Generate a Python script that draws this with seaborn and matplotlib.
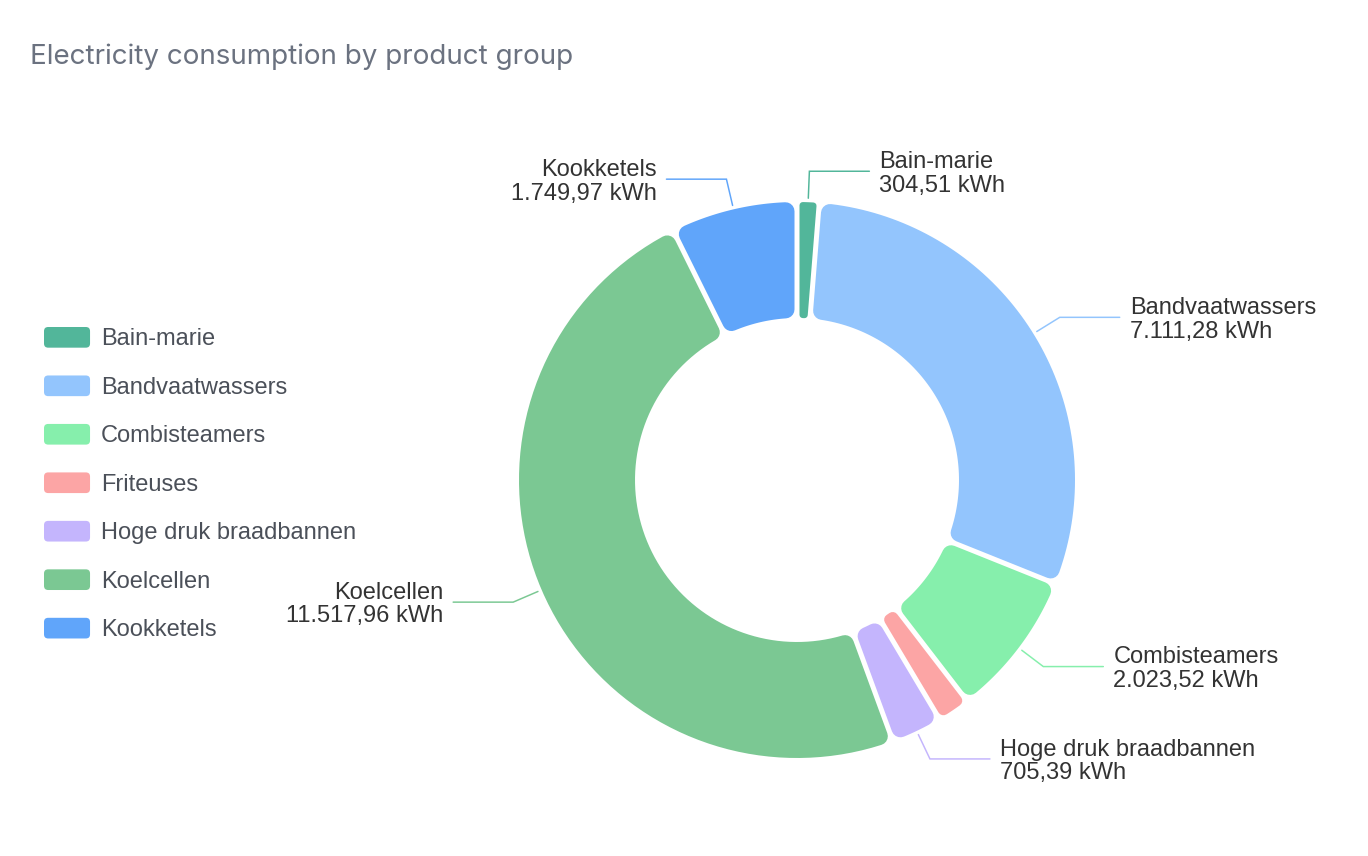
import numpy as np
import matplotlib
matplotlib.use("Agg")
import matplotlib.pyplot as plt
from matplotlib.patches import Polygon, Patch, FancyBboxPatch
from matplotlib.legend_handler import HandlerPatch
import seaborn as sns

# Data
categories = ["Bain-marie", "Bandvaatwassers", "Combisteamers", "Friteuses",
              "Hoge druk braadbannen", "Koelcellen", "Kookketels"]
consumption_kwh = [304.51, 7111.28, 2023.52, 450.00, 705.39, 11517.96, 1749.97]
show_label = [True, True, True, False, True, True, True]
hex_colors = ["#52b69a", "#93c5fd", "#86efac", "#fca5a5",
              "#c4b5fd", "#7bc893", "#60a5fa"]


def nl_kwh(v):
    s = f"{v:,.2f}".replace(",", "X").replace(".", ",").replace("X", ".")
    return f"{s} kWh"


class RoundHandle(HandlerPatch):
    def create_artists(self, legend, orig_handle, xdescent, ydescent,
                       width, height, fontsize, trans):
        p = FancyBboxPatch((-xdescent, -ydescent), width, height,
                           boxstyle="round,pad=0,rounding_size=3",
                           facecolor=orig_handle.get_facecolor(),
                           edgecolor="none", transform=trans)
        return [p]


W, H = 1368, 856
sns.set_theme(style="white")
plt.rcParams["font.family"] = ["Liberation Sans", "DejaVu Sans"]
palette = sns.color_palette(hex_colors)

fig = plt.figure(figsize=(W / 100, H / 100), dpi=100)
ax = fig.add_axes([0, 0, 1, 1])

# Donut geometry (pixel units)
cx, cy = 797, H - 480
r_out, r_in = 278, 162
gap, corner = 5.0, 9.0
pt = 72 / fig.dpi

wedges, _ = ax.pie(consumption_kwh, colors=palette, startangle=90, counterclock=False,
                   radius=r_out, center=(cx, cy),
                   wedgeprops=dict(width=r_out - r_in))
ax.set_xlim(0, W)
ax.set_ylim(0, H)
ax.set_aspect("equal")
ax.axis("off")

# Replace each wedge by a rounded, gapped version of itself
for w, color, name, val, lab in zip(wedges, palette, categories, consumption_kwh, show_label):
    w.set_visible(False)
    t1, t2 = np.radians(w.theta1), np.radians(w.theta2)
    span = t2 - t1
    c = min(corner, 0.8 * (r_in * span / 2 - gap / 2))
    d = gap / 2 + c
    ro, ri = r_out - c, r_in + c
    a_out, a_in = np.arcsin(d / ro), np.arcsin(d / ri)
    outer = np.linspace(t1 + a_out, t2 - a_out, 80)
    inner = np.linspace(t2 - a_in, t1 + a_in, 80)
    xs = np.concatenate([cx + ro * np.cos(outer), cx + ri * np.cos(inner)])
    ys = np.concatenate([cy + ro * np.sin(outer), cy + ri * np.sin(inner)])
    ax.add_patch(Polygon(np.column_stack([xs, ys]), closed=True, facecolor=color,
                         edgecolor=color, linewidth=2 * c * pt, joinstyle="round"))

    if not lab:
        continue
    mid = (t1 + t2) / 2
    side = 1 if np.cos(mid) > 0 else -1
    x0, y0 = cx + (r_out + 4) * np.cos(mid), cy + (r_out + 4) * np.sin(mid)
    x1, y1 = cx + (r_out + 31) * np.cos(mid), cy + (r_out + 31) * np.sin(mid)
    x2 = x1 + side * 60
    ax.plot([x0, x1, x2], [y0, y1, y1], color=color, lw=1.5 * pt,
            solid_joinstyle="miter")
    ax.text(x2 + side * 10, y1 - 2.5, f"{name}\n{nl_kwh(val)}",
            ha="left" if side > 0 else "right", va="center",
            multialignment="left" if side > 0 else "right",
            fontsize=17, color="#333333", linespacing=1.1)

# Legend
handles = [Patch(facecolor=c, edgecolor="none") for c in palette]
ax.legend(handles, categories, loc="upper left",
          bbox_to_anchor=(44 / W, 1 - 327 / H), bbox_transform=fig.transFigure,
          frameon=False, fontsize=17, handlelength=1.95, handleheight=0.97,
          handletextpad=0.45, labelspacing=1.06, borderpad=0, borderaxespad=0,
          labelcolor="#4b5059", handler_map={Patch: RoundHandle()})

fig.text(30 / W, 1 - 57 / H, "Electricity consumption by product group",
         fontsize=20, color="#6b7280", family=["Inter", "DejaVu Sans"],
         ha="left", va="center")

fig.savefig("out.png", dpi=100)
